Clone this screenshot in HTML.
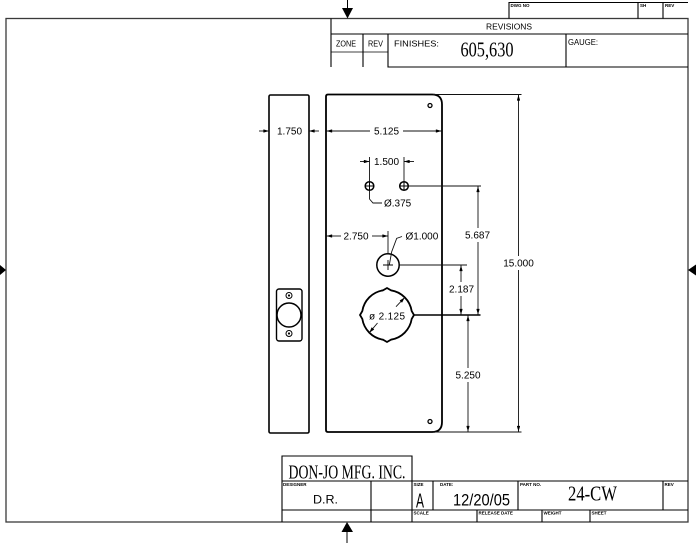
<!DOCTYPE html>
<html><head><meta charset="utf-8">
<style>
html,body{margin:0;padding:0;background:#fff;width:696px;height:543px;overflow:hidden;}
svg{display:block;}
text{font-family:"Liberation Sans",sans-serif;fill:#000;}
.s{font-family:"Liberation Serif",serif;}
.t{font-size:4.5px;font-weight:bold;}
.d{font-size:10px;}
.r{font-size:8px;}
</style></head><body>
<svg width="696" height="543" viewBox="0 0 696 543" xmlns="http://www.w3.org/2000/svg">
<defs>
<marker id="a" viewBox="0 0 10 6" refX="10" refY="3" markerWidth="6" markerHeight="3.4" orient="auto" markerUnits="userSpaceOnUse">
<path d="M0,0 L10,3 L0,6 Z" fill="#000"/>
</marker>
</defs>

<!-- border -->
<rect x="6" y="18.5" width="682" height="503.5" fill="none" stroke="#3a3a3a" stroke-width="1.3"/>
<!-- border arrows -->
<line x1="347.5" y1="0" x2="347.5" y2="9" stroke="#000" stroke-width="1"/>
<path d="M342,8 L353,8 L347.5,18.5 Z" fill="#000"/>
<path d="M341.5,532 L353,532 L347,522 Z" fill="#000"/>
<line x1="347" y1="531" x2="347" y2="543" stroke="#000" stroke-width="1"/>
<path d="M0,265 L6,270 L0,275 Z" fill="#000"/>
<path d="M696,264.5 L688,270 L696,275.5 Z" fill="#000"/>

<!-- revisions block -->
<g fill="none" stroke="#000" stroke-width="1.1">
<path d="M509,18.5 V2.5 H688 M638,2.5 V18.5 M663,2.5 V18.5"/>
<path d="M331,18.5 V67 M331,34 H688 M363,34 V67 M388,34 V67 H688 M566,34 V67"/>
<path d="M331,52 H388" stroke-width="0.8"/>
</g>
<text class="t" x="510.5" y="7">DWG NO</text>
<text class="t" x="640" y="7">SH</text>
<text class="t" x="665" y="7">REV</text>
<text class="r" x="509" y="29.5" text-anchor="middle" textLength="46" lengthAdjust="spacingAndGlyphs">REVISIONS</text>
<text class="r" x="336" y="46.5" textLength="20" lengthAdjust="spacingAndGlyphs">ZONE</text>
<text class="r" x="368" y="46.5" textLength="15" lengthAdjust="spacingAndGlyphs">REV</text>
<text class="r" x="394" y="46.5" textLength="45" lengthAdjust="spacingAndGlyphs">FINISHES:</text>
<text class="r" x="568" y="45" textLength="30" lengthAdjust="spacingAndGlyphs">GAUGE:</text>
<text class="s" x="460.5" y="56.5" font-size="21" textLength="53" lengthAdjust="spacingAndGlyphs">605,630</text>

<!-- title block -->
<g fill="none" stroke="#000" stroke-width="1.1">
<path d="M282,522 V456 H412 V522 M282,481 H688 M282,510 H688 M371,481 V522 M433,481 V510 M518,481 V510 M663,481 V510 M477,510 V522 M542,510 V522 M590,510 V522"/>
</g>
<text class="s" x="288.5" y="478.3" font-size="20" textLength="117" lengthAdjust="spacingAndGlyphs">DON-JO MFG. INC.</text>
<text class="t" x="283" y="486">DESIGNER</text>
<text x="313" y="503.5" font-size="11.5" textLength="25" lengthAdjust="spacingAndGlyphs">D.R.</text>
<text class="t" x="413.5" y="486">SIZE</text>
<text class="t" x="440" y="486">DATE:</text>
<text class="t" x="520" y="486">PART NO.</text>
<text class="t" x="664.5" y="486">REV</text>
<text x="416" y="507.5" font-size="20" textLength="8" lengthAdjust="spacingAndGlyphs">A</text>
<text x="453" y="505.5" font-size="16.5" textLength="57" lengthAdjust="spacingAndGlyphs">12/20/05</text>
<text class="s" x="568" y="500.5" font-size="21" textLength="49" lengthAdjust="spacingAndGlyphs">24-CW</text>
<text class="t" x="413.5" y="514.5">SCALE</text>
<text class="t" x="478.5" y="514.5">RELEASE DATE</text>
<text class="t" x="543.5" y="514.5">WEIGHT</text>
<text class="t" x="591.5" y="514.5">SHEET</text>

<!-- side view -->
<g fill="none" stroke="#000">
<rect x="269" y="95" width="40" height="338" rx="1.5" stroke-width="1.6"/>
<rect x="276.5" y="289" width="25.5" height="52" rx="2.5" stroke-width="1.4"/>
<circle cx="289" cy="315" r="12" stroke-width="1.5"/>
<circle cx="289" cy="295.5" r="3" stroke-width="1"/>
<circle cx="289" cy="333.5" r="3" stroke-width="1"/>
</g>
<circle cx="289" cy="295.5" r="1.1" fill="#000"/>
<circle cx="289" cy="333.5" r="1.1" fill="#000"/>

<!-- front plate -->
<g fill="none" stroke="#000">
<path d="M328,94.5 L432,94.5 Q442,94.5 442,104.5 L442,422 Q442,432 432,432 L328,432 Q326,432 326,430 L326,96.5 Q326,94.5 328,94.5 Z" stroke-width="1.8"/>
<circle cx="430" cy="105.5" r="2" stroke-width="1.3"/>
<circle cx="430" cy="421.5" r="2" stroke-width="1.3"/>
<!-- small holes -->
<circle cx="369.5" cy="186" r="4.3" stroke-width="1.5"/>
<circle cx="404" cy="186" r="4.3" stroke-width="1.5"/>
<path d="M365.2,186 H373.8 M369.5,181.7 V190.3 M399.7,186 H408.3 M404,181.7 V190.3" stroke-width="1"/>
<!-- 1in hole -->
<circle cx="388" cy="265" r="11.2" stroke-width="1.5"/>
<path d="M383,265 H393 M388,260 V270" stroke-width="0.9"/>
<!-- big hole -->
<path d="M390.9,290.3 A25,25 0 0 1 411.7,311.1 L414,315 L411.7,318.9 A25,25 0 0 1 390.9,339.7 L387,342 L383.1,339.7 A25,25 0 0 1 362.3,318.9 L360,315 L362.3,311.1 A25,25 0 0 1 383.1,290.3 L387,288 Z" stroke-width="1.8"/>
</g>

<!-- dimension & extension lines -->
<g fill="none" stroke="#111" stroke-width="0.9">
<!-- 1.750 -->
<line x1="259" y1="131" x2="269" y2="131" marker-end="url(#a)"/>
<line x1="319" y1="131" x2="309" y2="131" marker-end="url(#a)"/>
<!-- 5.125 -->
<line x1="370" y1="131" x2="326.5" y2="131" marker-end="url(#a)"/>
<line x1="403" y1="131" x2="441.5" y2="131" marker-end="url(#a)"/>
<!-- 1.500 -->
<path d="M369.5,157 V181.5 M404,157 V181.5"/>
<line x1="360" y1="161.5" x2="369.5" y2="161.5" marker-end="url(#a)"/>
<line x1="414" y1="161.5" x2="404" y2="161.5" marker-end="url(#a)"/>
<!-- .375 leader -->
<path d="M369.5,190.5 V199 L373,203 H382"/>
<!-- 2.750 -->
<line x1="341" y1="236" x2="326.5" y2="236" marker-end="url(#a)"/>
<line x1="372" y1="236" x2="388" y2="236" marker-end="url(#a)"/>
<path d="M388,231 V254"/>
<!-- 1.000 leader -->
<path d="M389.3,265 L391.7,251.7 L396.7,238.3 L402,236.5"/>
<!-- 2.125 leaders -->
<line x1="396" y1="306.7" x2="404.7" y2="297.5" marker-end="url(#a)"/>
<line x1="377.5" y1="323" x2="369.3" y2="332.7" marker-end="url(#a)"/>
<!-- extension lines -->
<path d="M408.5,186 H481"/>
<path d="M399.5,265 H467"/>
<path d="M414,315 H480.5" stroke-width="1.5" stroke="#000"/>
<path d="M433,94.5 H521.5 M433,432 H521.5"/>
<!-- 5.687 -->
<line x1="478" y1="228" x2="478" y2="186.5" marker-end="url(#a)"/>
<line x1="478" y1="242" x2="478" y2="314.5" marker-end="url(#a)"/>
<!-- 2.187 -->
<line x1="461" y1="282" x2="461" y2="265.5" marker-end="url(#a)"/>
<line x1="461" y1="296" x2="461" y2="314.5" marker-end="url(#a)"/>
<!-- 5.250 -->
<line x1="468" y1="368" x2="468" y2="315.5" marker-end="url(#a)"/>
<line x1="468" y1="382" x2="468" y2="431.5" marker-end="url(#a)"/>
<!-- 15.000 -->
<line x1="518.5" y1="256" x2="518.5" y2="95" marker-end="url(#a)"/>
<line x1="518.5" y1="270" x2="518.5" y2="431.5" marker-end="url(#a)"/>
</g>

<!-- dimension text -->
<g class="d">
<text x="289.5" y="134.6" text-anchor="middle" class="d">1.750</text>
<text x="386.5" y="134.6" text-anchor="middle" class="d">5.125</text>
<text x="386.5" y="165.1" text-anchor="middle" class="d">1.500</text>
<text x="384" y="206.6" class="d">Ø.375</text>
<text x="356" y="239.6" text-anchor="middle" class="d">2.750</text>
<text x="405.5" y="239.6" class="d">Ø1.000</text>
<text x="477.5" y="238.6" text-anchor="middle" class="d">5.687</text>
<text x="518.5" y="266.6" text-anchor="middle" class="d">15.000</text>
<text x="461.5" y="292.6" text-anchor="middle" class="d">2.187</text>
<text x="387" y="319.6" text-anchor="middle" class="d" textLength="36">ø 2.125</text>
<text x="468" y="378.6" text-anchor="middle" class="d">5.250</text>
</g>
</svg>
</body></html>
